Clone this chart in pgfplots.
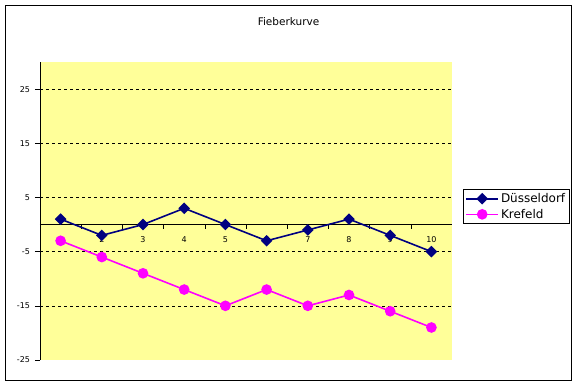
\documentclass[border=0pt]{standalone}
\usepackage{fontspec}
\setmainfont{DejaVu Sans}
\usepackage{pgfplots}
\pgfplotsset{compat=1.18}
\definecolor{plotyellow}{HTML}{FFFF99}
\definecolor{dnavy}{HTML}{000080}
\definecolor{kmag}{HTML}{FF00FF}
\begin{document}
\begin{tikzpicture}[x=1pt,y=1pt]
\path[fill=white] (0,0) rectangle (577,385);
\draw[black,line width=1pt] (5.5,4.5) rectangle (571,379.5);
\node[font=\fontsize{10.5}{12}\selectfont] at (288.5,363) {Fieberkurve};
\begin{axis}[
  at={(40pt,25pt)}, anchor=south west, scale only axis,
  width=412pt, height=298pt,
  xmin=0.5, xmax=10.5, ymin=-25, ymax=30,
  clip=false,
  axis x line*=middle, axis y line*=left,
  axis line style={black, line width=0.8pt},
  axis background/.style={fill=plotyellow},
  xtick={1,...,10},
  major x tick style={draw=none},
  minor xtick={1.5,2.5,...,9.5},
  minor x tick style={black, line width=0.6pt},
  xtick align=outside, minor tick length=4pt,
  ytick={-25,-15,...,25},
  ytick align=outside, major tick length=5pt,
  y tick style={black, line width=0.6pt},
  extra y ticks={-15,-5,5,15,25},
  extra y tick labels={},
  extra y tick style={grid=major, major tick length=0pt},
  major grid style={black, dash pattern=on 3pt off 3pt, line width=0.6pt},
  tick label style={font=\fontsize{8}{9.5}\selectfont},
  /pgf/number format/assume math mode=true,
  xticklabel style={yshift=-3.5pt},
  yticklabel style={xshift=-1.5pt},
  legend style={at={(1.0267,0.5738)}, anchor=north west, draw=black,
    line width=0.8pt, font=\fontsize{12}{14}\selectfont,
    inner sep=2pt, row sep=1pt},
  legend cell align=left,
  legend image code/.code={\draw[mark repeat=2,mark phase=2,#1] plot coordinates {(0pt,0pt) (16pt,0pt) (32pt,0pt)};},
]
\addplot[dnavy, line width=1.6pt, mark=square*, mark size=3.3pt, mark options={rotate=45, solid}]
  coordinates {(1,1)(2,-2)(3,0)(4,3)(5,0)(6,-3)(7,-1)(8,1)(9,-2)(10,-5)};
\addlegendentry{Düsseldorf}
\addplot[kmag, line width=1.6pt, mark=*, mark size=4.5pt, mark options={solid}]
  coordinates {(1,-3)(2,-6)(3,-9)(4,-12)(5,-15)(6,-12)(7,-15)(8,-13)(9,-16)(10,-19)};
\addlegendentry{Krefeld}
\end{axis}
\end{tikzpicture}
\end{document}
